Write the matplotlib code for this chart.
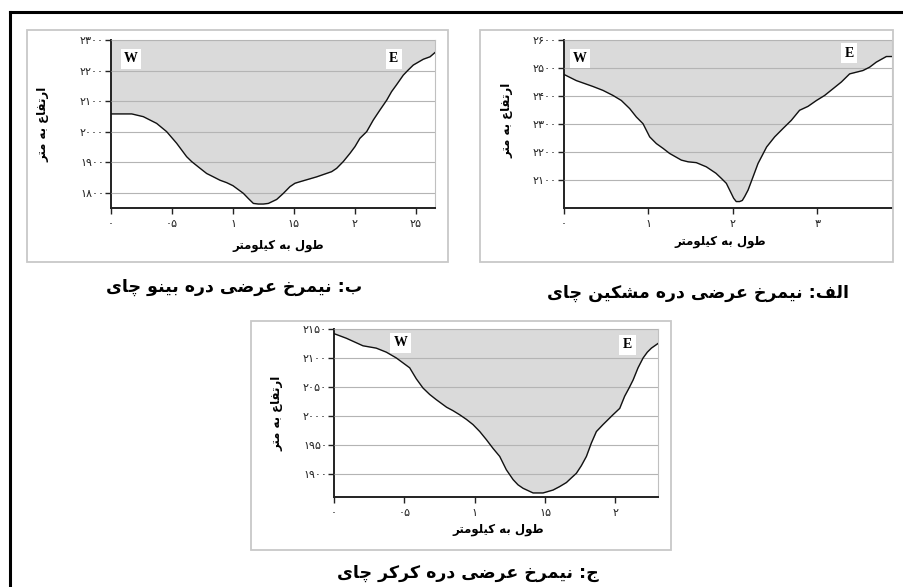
import matplotlib
matplotlib.use("Agg")
import matplotlib.pyplot as plt
from matplotlib.lines import Line2D
from matplotlib.patches import Rectangle

# --- data ---
# ب: بینو چای
binu_x = [0, 0.17, 0.265, 0.374, 0.456, 0.497, 0.538, 0.579, 0.620, 0.661, 0.73, 0.784,
          0.839, 0.893, 0.948, 1.0, 1.085, 1.126, 1.167, 1.208, 1.249, 1.29, 1.358,
          1.413, 1.467, 1.508, 1.549, 1.686, 1.809, 1.85, 1.904, 1.959, 2.0, 2.04,
          2.096, 2.15, 2.205, 2.26, 2.30, 2.34, 2.396, 2.437, 2.478, 2.56, 2.615, 2.656]
binu_y = [2058, 2058, 2049, 2027, 2000, 1981, 1962, 1940, 1918, 1902, 1880, 1863,
          1852, 1841, 1833, 1823, 1798, 1781, 1765, 1763, 1763, 1765, 1778,
          1798, 1820, 1831, 1836, 1852, 1869, 1880, 1902, 1929, 1951, 1978,
          2000, 2038, 2071, 2103, 2131, 2153, 2185, 2202, 2218, 2237, 2245, 2259]
binu_yticks = [1800, 1900, 2000, 2100, 2200, 2300]
binu_ylabels = ["۱۸۰۰", "۱۹۰۰", "۲۰۰۰", "۲۱۰۰", "۲۲۰۰", "۲۳۰۰"]
binu_xticks = [0, 0.5, 1, 1.5, 2, 2.5]
binu_xlabels = ["۰", "۰۵", "۱", "۱۵", "۲", "۲۵"]

# الف: مشکین چای
mesh_x = [0, 0.146, 0.343, 0.462, 0.58, 0.679, 0.778, 0.857, 0.936, 1.015, 1.094,
          1.173, 1.25, 1.39, 1.469, 1.567, 1.686, 1.80, 1.863, 1.923, 1.98, 2.009,
          2.04, 2.08, 2.112, 2.14, 2.18, 2.24, 2.298, 2.40, 2.495, 2.594, 2.692,
          2.79, 2.89, 2.99, 3.087, 3.186, 3.285, 3.383, 3.462, 3.541, 3.62, 3.699,
          3.818, 3.885]
mesh_y = [2477, 2455, 2434, 2420, 2402, 2384, 2355, 2325, 2301, 2254, 2230,
          2213, 2195, 2171, 2165, 2162, 2147, 2124, 2106, 2088, 2053, 2035,
          2023, 2023, 2027, 2041, 2064, 2112, 2159, 2218, 2254, 2284, 2313,
          2349, 2363, 2384, 2402, 2426, 2450, 2479, 2485, 2491, 2503, 2521,
          2541, 2541]
mesh_yticks = [2100, 2200, 2300, 2400, 2500, 2600]
mesh_ylabels = ["۲۱۰۰", "۲۲۰۰", "۲۳۰۰", "۲۴۰۰", "۲۵۰۰", "۲۶۰۰"]
mesh_xticks = [0, 1, 2, 3]
mesh_xlabels = ["۰", "۱", "۲", "۳"]

# ج: کرکر چای
kar_x = [0, 0.088, 0.206, 0.30, 0.372, 0.443, 0.538, 0.585, 0.633, 0.68, 0.727, 0.80,
         0.846, 0.893, 0.941, 0.988, 1.036, 1.083, 1.13, 1.178, 1.225, 1.273, 1.308,
         1.344, 1.415, 1.486, 1.557, 1.604, 1.652, 1.687, 1.723, 1.758, 1.794, 1.829,
         1.865, 1.912, 1.983, 2.031, 2.066, 2.097, 2.126, 2.161, 2.197, 2.227, 2.256,
         2.303]
kar_y = [2142, 2134, 2121, 2117, 2110, 2100, 2083, 2064, 2048, 2037, 2028, 2015,
         2009, 2002, 1994, 1985, 1973, 1959, 1944, 1930, 1907, 1890, 1881,
         1875, 1867, 1867, 1872, 1878, 1885, 1893, 1901, 1914, 1930, 1953,
         1973, 1985, 2002, 2013, 2034, 2048, 2062, 2083, 2100, 2110, 2117,
         2125]
kar_yticks = [1900, 1950, 2000, 2050, 2100, 2150]
kar_ylabels = ["۱۹۰۰", "۱۹۵۰", "۲۰۰۰", "۲۰۵۰", "۲۱۰۰", "۲۱۵۰"]
kar_xticks = [0, 0.5, 1, 1.5, 2]
kar_xlabels = ["۰", "۰۵", "۱", "۱۵", "۲"]

ylab = "ارتفاع به متر"
xlab = "طول به کیلومتر"
title_b = "ب: نیمرخ عرضی دره بینو چای"
title_a = "الف: نیمرخ عرضی دره مشکین چای"
title_j = "ج: نیمرخ عرضی دره کرکر چای"

# matplotlib has no arabic shaping -> pick presentation forms by hand and reverse
# (isolated, final, initial, medial)
FORMS = {
    'ا': ('\uFE8D', '\uFE8E', None, None),
    'د': ('\uFEA9', '\uFEAA', None, None),
    'ر': ('\uFEAD', '\uFEAE', None, None),
    'و': ('\uFEED', '\uFEEE', None, None),
    'ب': ('\uFE8F', '\uFE90', '\uFE91', '\uFE92'),
    'ت': ('\uFE95', '\uFE96', '\uFE97', '\uFE98'),
    'ج': ('\uFE9D', '\uFE9E', '\uFE9F', '\uFEA0'),
    'خ': ('\uFEA5', '\uFEA6', '\uFEA7', '\uFEA8'),
    'ش': ('\uFEB5', '\uFEB6', '\uFEB7', '\uFEB8'),
    'ض': ('\uFEBD', '\uFEBE', '\uFEBF', '\uFEC0'),
    'ط': ('\uFEC1', '\uFEC2', '\uFEC3', '\uFEC4'),
    'ع': ('\uFEC9', '\uFECA', '\uFECB', '\uFECC'),
    'ف': ('\uFED1', '\uFED2', '\uFED3', '\uFED4'),
    'ل': ('\uFEDD', '\uFEDE', '\uFEDF', '\uFEE0'),
    'م': ('\uFEE1', '\uFEE2', '\uFEE3', '\uFEE4'),
    'ن': ('\uFEE5', '\uFEE6', '\uFEE7', '\uFEE8'),
    'ه': ('\uFEE9', '\uFEEA', '\uFEEB', '\uFEEC'),
    'چ': ('\uFB7A', '\uFB7B', '\uFB7C', '\uFB7D'),
    'ک': ('\uFB8E', '\uFB8F', '\uFB90', '\uFB91'),
    'ی': ('\uFBFC', '\uFBFD', '\uFBFE', '\uFBFF'),
}


def fa(s):
    out = []
    for i, ch in enumerate(s):
        if ch not in FORMS:
            out.append(ch)
            continue
        f = FORMS[ch]
        prev = i > 0 and s[i - 1] in FORMS and FORMS[s[i - 1]][2] is not None
        nxt = f[2] is not None and i + 1 < len(s) and s[i + 1] in FORMS
        if prev and nxt:
            out.append(f[3])
        elif prev:
            out.append(f[1])
        elif nxt:
            out.append(f[2])
        else:
            out.append(f[0])
    return "".join(out[::-1])


W, H = 904, 587
fig = plt.figure(figsize=(W / 100, H / 100), dpi=100)
plt.rcParams['font.family'] = ['DejaVu Sans']


def box(x0, y0, x1, y1):
    return [x0 / W, 1 - y1 / H, (x1 - x0) / W, (y1 - y0) / H]


def panel(rect, frame, x, y, ylim, yt, ytl, xt, xtl, xmax, wpos, epos, ylpos, xlpos, tpos, title):
    fig.patches.append(Rectangle((frame[0] / W, 1 - frame[3] / H),
                                 (frame[2] - frame[0]) / W, (frame[3] - frame[1]) / H,
                                 transform=fig.transFigure, fill=False,
                                 edgecolor='#c8c8c8', linewidth=1.3))
    ax = fig.add_axes(box(*rect))
    ax.fill_between(x, y, ylim[1], color='#dadada', linewidth=0, zorder=1)
    ax.plot(x, y, color='#111111', linewidth=1.0, zorder=3)
    ax.set_xlim(0, xmax)
    ax.set_ylim(*ylim)
    ax.set_yticks(yt)
    ax.set_yticklabels(ytl, fontsize=8, color='#222222')
    ax.set_xticks(xt)
    ax.set_xticklabels(xtl, fontsize=8, color='#222222')
    ax.yaxis.grid(True, color='#b4b4b4', linewidth=0.8, zorder=2)
    ax.set_axisbelow(False)
    for sp in ['top', 'right']:
        ax.spines[sp].set_color('#c0c0c0')
        ax.spines[sp].set_linewidth(0.8)
    for sp in ['left', 'bottom']:
        ax.spines[sp].set_color('#222222')
        ax.spines[sp].set_linewidth(1.4)
    ax.tick_params(axis='y', length=4, width=1, pad=1, color='#222222')
    ax.tick_params(axis='x', length=4, width=1, pad=4, color='#222222')
    for lab, pos in (("W", wpos), ("E", epos)):
        ax.text(pos[0], pos[1], lab, transform=ax.transAxes, ha='center', va='center',
                fontsize=10, fontweight='bold', family='Liberation Serif', zorder=5,
                bbox=dict(boxstyle='square,pad=0.25', facecolor='white', edgecolor='none'))
    fig.text(ylpos[0] / W, 1 - ylpos[1] / H, fa(ylab), rotation=90, ha='center', va='center',
             fontsize=8.5, fontweight='bold')
    fig.text(xlpos[0] / W, 1 - xlpos[1] / H, fa(xlab), ha='center', va='center',
             fontsize=8.5, fontweight='bold')
    fig.text(tpos[0] / W, 1 - tpos[1] / H, fa(title), ha='center', va='center',
             fontsize=12.5, fontweight='bold')
    return ax


panel((111, 40, 435, 208), (27, 30, 448, 262), binu_x, binu_y, (1750, 2300),
      binu_yticks, binu_ylabels, binu_xticks, binu_xlabels, 2.656,
      (0.062, 0.887), (0.873, 0.887), (43, 124), (278, 245), (234, 287), title_b)

panel((564, 40, 892, 208), (480, 30, 893, 262), mesh_x, mesh_y, (2000, 2600),
      mesh_yticks, mesh_ylabels, mesh_xticks, mesh_xlabels, 3.885,
      (0.049, 0.89), (0.869, 0.92), (507, 120), (720, 241), (698, 293), title_a)

panel((334, 329, 658, 497), (251, 321, 671, 550), kar_x, kar_y, (1860, 2150),
      kar_yticks, kar_ylabels, kar_xticks, kar_xlabels, 2.303,
      (0.205, 0.917), (0.906, 0.905), (277, 413), (498, 530), (468, 573), title_j)

# outer black frame (only top and left show in the picture)
fig.add_artist(Line2D([10 / W, 1], [1 - 12 / H, 1 - 12 / H], color='black', linewidth=2.2,
                      transform=fig.transFigure))
fig.add_artist(Line2D([10 / W, 10 / W], [1 - 12 / H, 0], color='black', linewidth=2.2,
                      transform=fig.transFigure))

fig.savefig("out.png", dpi=100)
